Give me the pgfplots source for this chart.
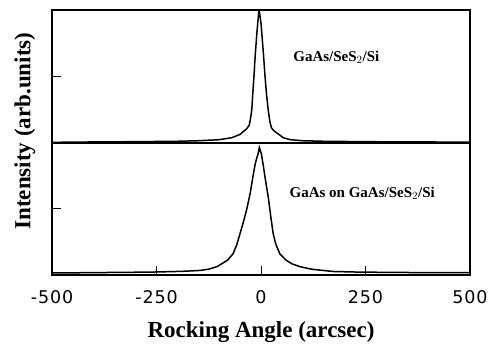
\documentclass[border=0pt]{standalone}
\usepackage{pgfplots}
\pgfplotsset{compat=1.18}
\usepackage{fontspec}
\setmainfont{Liberation Serif}
\newfontfamily\ticksfont[LetterSpace=5]{DejaVu Sans}
\begin{document}
\begin{tikzpicture}[x=1pt,y=1pt]
\useasboundingbox (-52pt,-70pt) rectangle (448pt,275pt);
\pgfplotsset{
  every axis/.append style={
    scale only axis, width=418pt,
    xmin=-500, xmax=500,
    axis line style={line width=1.4pt},
    tick style={line width=1pt, black},
    tick align=inside,
    ytick={0.5}, yticklabels={},
    ytick pos=left,
    major tick length=9pt,
  }
}
% bottom panel
\begin{axis}[
  name=bot, at={(0pt,0pt)}, anchor=south west,
  height=132pt,
  ymin=-0.0156, ymax=1.0156,
  xtick={-500,-250,0,250,500},
  xtick pos=bottom,
  xticklabels={-500,-250,0,250,500},
  xticklabel style={font=\ticksfont\fontsize{17.5}{19}\selectfont, yshift=-12pt},
  xlabel={\fontsize{23}{26}\selectfont\bfseries Rocking Angle (arcsec)},
  xlabel style={yshift=-11pt},
]
\addplot[black, line width=1.5pt] coordinates {
(-500,0.0) (-400,0.003) (-300,0.006) (-250,0.008) (-200,0.012) (-175,0.015)
(-146,0.02) (-125,0.03) (-105,0.05) (-90,0.08) (-80,0.1) (-67,0.15) (-58,0.22)
(-50,0.31) (-42,0.4) (-34,0.5) (-26,0.62) (-20,0.74) (-14,0.85) (-10,0.9)
(-7,0.93) (-4,0.98) (-2,0.96) (1,0.93) (5,0.85) (10,0.74) (17.5,0.59)
(23,0.45) (29,0.31) (35,0.23) (45,0.15) (60,0.1) (75,0.07) (93,0.05)
(120,0.03) (172,0.012) (220,0.008) (300,0.005) (400,0.003) (500,0.002)
};
\node[anchor=west, font=\fontsize{15}{17}\selectfont\bfseries] at (rel axis cs:0.56,0.621) {GaAs on GaAs/SeS$_2$/Si};
\end{axis}
% top panel
\begin{axis}[
  name=top, at={(0pt,132pt)}, anchor=south west,
  height=133pt,
  ymin=-0.005, ymax=1.0,
  xtick=\empty,
]
\addplot[black, line width=1.5pt] coordinates {
(-500,0.0) (-400,0.003) (-300,0.005) (-200,0.008) (-150,0.012) (-100,0.02)
(-70,0.035) (-50,0.06) (-43,0.08) (-35,0.10) (-28,0.13) (-24,0.2) (-22,0.25)
(-20,0.35) (-17,0.49) (-14,0.65) (-10,0.82) (-7,0.93) (-5,1.0) (-3,0.97)
(0,0.9) (2,0.82) (6,0.66) (9.6,0.5) (13,0.37) (17,0.25) (21,0.16) (25,0.11)
(30,0.09) (38,0.07) (45,0.055) (53,0.035) (70,0.02) (100,0.012) (150,0.008)
(250,0.005) (350,0.003) (500,0.002)
};
\node[anchor=west, font=\fontsize{15}{17}\selectfont\bfseries] at (rel axis cs:0.569,0.647) {GaAs/SeS$_2$/Si};
\end{axis}
\node[rotate=90, font=\fontsize{23}{26}\selectfont\bfseries] at (-27pt,144pt) {Intensity (arb.units)};
\end{tikzpicture}
\end{document}
